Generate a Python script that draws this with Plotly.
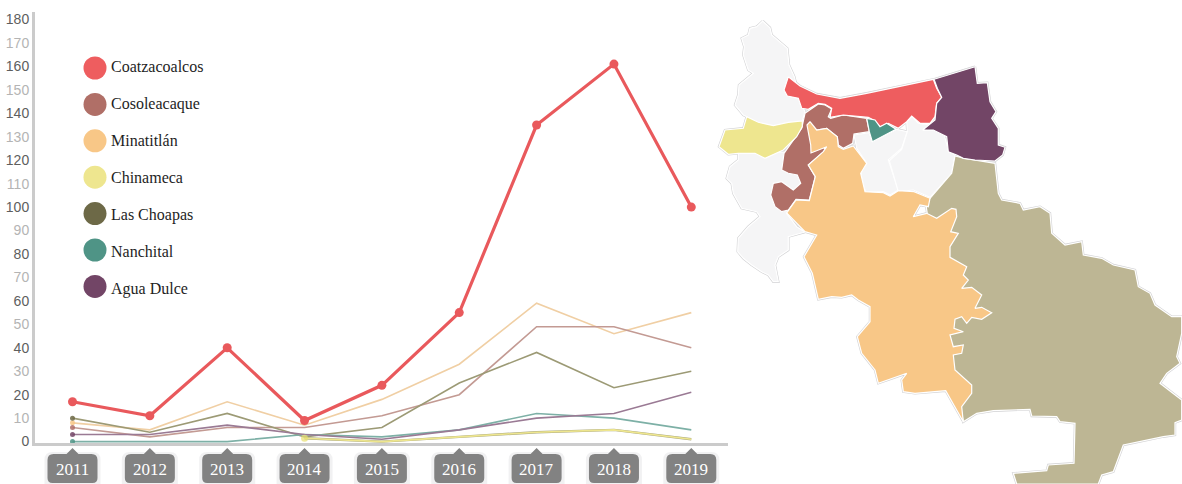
import plotly.graph_objects as go

years = [2011, 2012, 2013, 2014, 2015, 2016, 2017, 2018, 2019]
y_ticks = list(range(0, 181, 10))

coatzacoalcos = [17, 11, 40, 9, 24, 55, 135, 161, 100]
minatitlan = [8, 5, 17, 7, 18, 33, 59, 46, 55]
cosoleacaque = [6, 2, 6, 6, 11, 20, 49, 49, 40]
las_choapas = [10, 4, 12, 2, 6, 25, 38, 23, 30]
agua_dulce = [3, 3, 7, 3, 1, 5, 10, 12, 21]
nanchital = [0, 0, 0, 3, 2, 5, 12, 10, 5]
chinameca = [None, None, None, 1.4, 0, 2, 4, 5, 1]

legend_names = ["Coatzacoalcos", "Cosoleacaque", "Minatitlán", "Chinameca", "Las Choapas", "Nanchital", "Agua Dulce"]
legend_colors = ["#EE5D5F", "#B06F67", "#F8C787", "#EEE68F", "#6D6947", "#4F9486", "#724566"]

# Map outlines, in the map's own planar units
gray_north = [(762.7,21),(770,27.7),(771.7,35),(783.3,44.3),(787.3,48.3),(789,65),(794.3,76.7),(800,100),(805,112),(802.3,121),(795,124),(773.3,127),(760,124),(746.7,116.7),(743.3,115),(735,105),(738.3,95),(739,85),(753.3,73.3),(748.3,70),(743.3,55),(744.3,46.7),(741.7,38.3),(748.3,35),(750,28.3),(756.7,26.7)]
gray_south = [(738.3,152),(768,152),(790,152),(802,180),(795,205),(786.7,213.3),(796.7,226.7),(805,232),(788.3,236.7),(788.3,250),(778.3,256.7),(775,265),(778.3,281.7),(773.3,281.7),(768.3,275),(761.7,271.7),(751.7,265),(743.3,258.3),(737.7,251.7),(738.3,238.3),(748.3,226.7),(760,216.7),(756.7,211.7),(741.7,208.3),(733.3,193.3),(731.7,183.3),(726.7,178.3),(730,166.7),(738.3,160)]
gray_center_a = [(854,135),(869.3,132.7),(872.3,141.7),(896.7,129.3),(907.3,131.7),(901.7,148.3),(888.3,160),(898.3,190),(890,195),(883.3,191.7),(866.7,192.7),(860,181.7),(861.7,170),(866.7,163.3),(856.7,148.3)]
gray_center_b = [(911.7,116),(918.3,123.3),(930,125),(922.7,130),(933.3,130),(943.3,131.7),(948.3,150),(955,155),(951.7,173.3),(940,186.7),(930,197.3),(913.3,190),(898.3,191.7),(889.3,160.7),(901.7,149.3),(907.3,131.7),(906.7,121.7)]
coatza_shape = [(788.3,76.7),(800,86),(816.7,94),(840,98.3),(866.7,93.3),(896.7,87.3),(933.3,79.3),(936.7,88.3),(941.7,97.3),(936.7,103.3),(935,116.7),(930,123.3),(920,123.3),(911.7,116),(906.7,121.7),(898.3,128.3),(888.3,123.3),(880,126.7),(873.3,120),(868.3,117.3),(856.7,116),(843.3,115),(830,117.3),(831.7,108.3),(825,104.3),(818.3,103.3),(808.3,109.3),(801.7,108.3),(798.3,98.3),(787.3,96),(784,90)]
coso_shape = [(805,113.3),(818.3,104),(825,105),(831.7,109),(828.3,116.7),(830.7,118.3),(843.3,115),(856.7,116.7),(866.7,118.3),(869.3,131.7),(854,134),(852.7,143.3),(843.3,148.3),(838.3,145),(837.3,136.7),(826.7,128.3),(816.7,130),(812,135),(826,150),(808.3,165),(815.3,176.7),(809.3,200),(796,199.3),(788.3,210),(781.7,211.7),(775,206.7),(770.7,195),(773.3,183.3),(781.7,181.7),(793.3,190),(800.7,183.3),(797.3,175),(788.3,173.3),(781.7,170),(784,153.3),(801.7,128.3)]
chinameca_shape = [(746.7,116.7),(758.3,122.3),(773.3,125.7),(788.3,122.3),(802.3,121),(802.3,126.7),(796.7,136.7),(783.3,150),(765,158.3),(755,153.3),(738.3,153.3),(728.3,154.3),(719,146.7),(725,130),(743.3,128.3)]
nanchital_shape = [(866.7,118.3),(875,120),(880,126.7),(886.7,123.3),(896,129.3),(872.3,141.7),(869.3,131.7)]
agua_shape = [(975,66.7),(977.3,83.3),(987.3,82.7),(990,101.7),(996,111.7),(991.7,118.3),(998.3,128.3),(998.3,145),(1005,147.3),(1002.7,155),(995,161),(975,160),(963.3,158.3),(956.7,155),(948.3,151.7),(946.7,136.7),(933.3,130),(922.7,130),(935,120),(936.7,103.3),(941.7,97.3),(937.3,88.3),(934,79.3)]
choapas_shape = [(955,156),(965,158.3),(995,163.3),(998.3,193.3),(1001.7,200),(1020,203.3),(1023.3,210),(1040,206.7),(1050,213.3),(1051.7,233.3),(1065,245),(1081.7,241.7),(1083.3,255),(1101.7,258.3),(1113.3,265),(1135,270),(1138.3,286.7),(1150,293.3),(1155,305),(1171.7,316.7),(1181.7,316.7),(1181.7,333.3),(1176.7,356.7),(1180,363.3),(1166.7,373.3),(1160,383.3),(1181.7,400),(1181.7,420),(1175,422.7),(1175,435),(1163.3,436.7),(1133.3,443.3),(1123.3,445),(1113.3,471.7),(1101.7,475),(1098.3,484),(1016.7,484),(1013.3,473.3),(1046.7,470.7),(1048.3,465),(1074,463.3),(1075,423.3),(1060,421.7),(1056.7,416.7),(1031.7,416),(1030,409.3),(993.3,410.7),(976.7,413.3),(963.3,421.7),(940,300),(926,205),(930,198.3),(940,186.7),(951.7,173.3)]
mina_shape = [(810,121.7),(816.7,130),(826.7,128.3),(837.3,136.7),(838.3,146.7),(843.3,149.3),(853.3,146),(866.7,163.3),(860.7,173.3),(865,191.7),(883.3,192.7),(890,196),(898.3,190.7),(914,191.7),(930,198.3),(928.3,206.7),(920,205),(913.3,216.7),(926.7,213.3),(936.7,218.3),(951.7,208.3),(956,209.3),(956.7,216.7),(950.7,231.7),(958.3,233.3),(950,246.7),(950,257.3),(966.7,266.7),(963.3,275),(968.3,280),(961.7,288.3),(971.7,287.3),(981.7,295),(975,308.3),(981.7,307.3),(991.7,312.7),(981.7,319.3),(971.7,317.3),(966.7,323.3),(961.7,316.7),(955,319.3),(954,328.3),(963.3,331.7),(950,335),(953.3,346.7),(963.3,345),(961.7,353.3),(953.3,355),(955,370),(971.7,385),(971.7,393.3),(961.7,406.7),(963.3,421.7),(945.7,390.7),(915,393.3),(903.3,391.7),(901.7,380),(906.7,373.3),(878.3,383.3),(875,370),(861.7,353.3),(857.3,336.7),(870,321.7),(870,306.7),(858.3,300),(851.7,295),(841.7,297.3),(831.7,296.7),(818.3,299.3),(812.3,273.3),(804,256.7),(816.7,235),(805,231.7),(795,221.7),(786.7,213),(796,200),(809.3,200.7),(815.3,176.7),(808.3,165),(823.3,151.7),(826.7,146.7),(811,153),(810.7,145),(807,125)]

GRAY = "#F5F5F6"
map_regions = [
    (gray_north, GRAY), (gray_south, GRAY), (gray_center_a, GRAY), (gray_center_b, GRAY),
    (choapas_shape, "#BDB694"), (coso_shape, "#B06F67"), (coatza_shape, "#EE5D5F"),
    (chinameca_shape, "#EEE68F"), (nanchital_shape, "#4F9486"), (agua_shape, "#724566"),
    (mina_shape, "#F8C787"),
]

W, H = 1182, 484
fig = go.Figure()

def first_marker(vals, size):
    idx = next(i for i, v in enumerate(vals) if v is not None)
    return [size if i == idx else 0 for i in range(len(vals))]

thin = [
    (minatitlan, "#F0CFA4", "#F8C787", "Minatitlán"),
    (cosoleacaque, "#C39A93", "#B06F67", "Cosoleacaque"),
    (las_choapas, "#9C9A75", "#6D6947", "Las Choapas"),
    (nanchital, "#7DB0A6", "#4F9486", "Nanchital"),
    (agua_dulce, "#9A7A94", "#724566", "Agua Dulce"),
]
for vals, lc, mc, name in thin:
    fig.add_trace(go.Scatter(x=years, y=vals, name=name, mode="lines+markers", showlegend=False,
                             line=dict(color=lc, width=1.6),
                             marker=dict(color=mc, size=first_marker(vals, 5), opacity=0.85, line=dict(width=0))))
fig.add_trace(go.Scatter(x=years, y=chinameca, mode="lines", showlegend=False, hoverinfo="skip",
                         line=dict(color="#A8A67E", width=2.4)))
fig.add_trace(go.Scatter(x=years, y=chinameca, name="Chinameca", mode="lines+markers", showlegend=False,
                         line=dict(color="#EEE68F", width=1.6),
                         marker=dict(color="#E8E070", size=first_marker(chinameca, 7), line=dict(width=0))))
fig.add_trace(go.Scatter(x=years, y=coatzacoalcos, name="Coatzacoalcos", mode="lines+markers", showlegend=False,
                         line=dict(color="#E9595C", width=3.2),
                         marker=dict(color="#E9595C", size=9, line=dict(width=0))))

# Map: grey outer rim first, then fills with white internal borders
for shape, _ in map_regions:
    xs = [p[0] for p in shape] + [shape[0][0]]
    ys = [p[1] for p in shape] + [shape[0][1]]
    fig.add_trace(go.Scatter(x=xs, y=ys, xaxis="x2", yaxis="y2", mode="lines", showlegend=False,
                             hoverinfo="skip", line=dict(color="#D2D2D4", width=2.4)))
for shape, color in map_regions:
    xs = [p[0] for p in shape] + [shape[0][0]]
    ys = [p[1] for p in shape] + [shape[0][1]]
    fig.add_trace(go.Scatter(x=xs, y=ys, xaxis="x2", yaxis="y2", mode="lines", fill="toself",
                             fillcolor=color, showlegend=False, hoverinfo="skip",
                             line=dict(color="#FFFFFF", width=1.2)))

# Legend
legend_x = [95] * len(legend_names)
legend_y = [68 + 36.4 * i for i in range(len(legend_names))]
label_y = [67.5 + 37.1 * i for i in range(len(legend_names))]
fig.add_trace(go.Scatter(x=legend_x, y=legend_y, xaxis="x2", yaxis="y2", mode="markers", showlegend=False,
                         hoverinfo="skip", marker=dict(color=legend_colors, size=23, line=dict(width=0))))
fig.add_trace(go.Scatter(x=[111] * len(legend_names), y=label_y, xaxis="x2", yaxis="y2",
                         mode="text", text=legend_names, textposition="middle right", showlegend=False,
                         hoverinfo="skip", textfont=dict(family="Liberation Serif", size=16, color="#1E1E1E")))

# Year badges
BADGE = "M -25 24 Q -25 30 -19 30 L -6 30 L 0 36 L 6 30 L 19 30 Q 25 30 25 24 L 25 6 Q 25 1 20 1 L -20 1 Q -25 1 -25 6 Z"
SHADOW = "M -28 24 Q -28 32 -20 32 L 20 32 Q 28 32 28 24 L 28 0 L -28 0 Z"
shapes = []
annotations = []
for yr in years:
    shapes.append(dict(type="path", xref="x", yref="paper", xsizemode="pixel", ysizemode="pixel",
                       xanchor=yr, yanchor=0, path=SHADOW, fillcolor="rgba(120,120,130,0.10)", line=dict(width=0),
                       layer="below"))
    shapes.append(dict(type="path", xref="x", yref="paper", xsizemode="pixel", ysizemode="pixel",
                       xanchor=yr, yanchor=0, path=BADGE, fillcolor="#828282", line=dict(width=0)))
    annotations.append(dict(x=yr, xref="x", y=15 / H, yref="paper", yanchor="middle", text=str(yr), showarrow=False,
                            font=dict(family="Liberation Serif", size=17, color="#FFFFFF")))

tick_text = []
for v in y_ticks:
    col = "#5E5E5E" if v % 20 == 0 else "#B4B4B4"
    tick_text.append(f'<span style="color:{col}">{v}</span>')

PX = 77.35
X0 = 72.5
fig.update_layout(
    width=W, height=H, autosize=False, margin=dict(l=0, r=0, t=0, b=0, pad=0, autoexpand=False),
    paper_bgcolor="#FFFFFF", plot_bgcolor="rgba(0,0,0,0)", showlegend=False,
    shapes=shapes, annotations=annotations,
    xaxis=dict(domain=[35 / W, 728 / W], range=[2011 - (X0 - 35) / PX, 2011 + (728 - X0) / PX],
               showgrid=False, zeroline=False, showticklabels=False, ticks="",
               showline=True, linecolor="#CBCBCB", linewidth=3, anchor="y"),
    yaxis=dict(domain=[(H - 443) / H, (H - 12) / H], range=[-0.6, 183.2],
               showgrid=False, zeroline=False, tickmode="array", tickvals=y_ticks, ticktext=tick_text,
               ticks="", showline=True, linecolor="#CBCBCB", linewidth=3, anchor="x",
               tickfont=dict(family="Liberation Sans", size=14, color="#5E5E5E")),
    xaxis2=dict(domain=[0, 1], range=[0, W], visible=False, anchor="y2", fixedrange=True),
    yaxis2=dict(domain=[0, 1], range=[H, 0], visible=False, anchor="x2", fixedrange=True),
)

fig.write_html("out.html", config={"displayModeBar": False},
               post_script="document.body.style.margin='0';document.body.style.overflow='hidden';")
